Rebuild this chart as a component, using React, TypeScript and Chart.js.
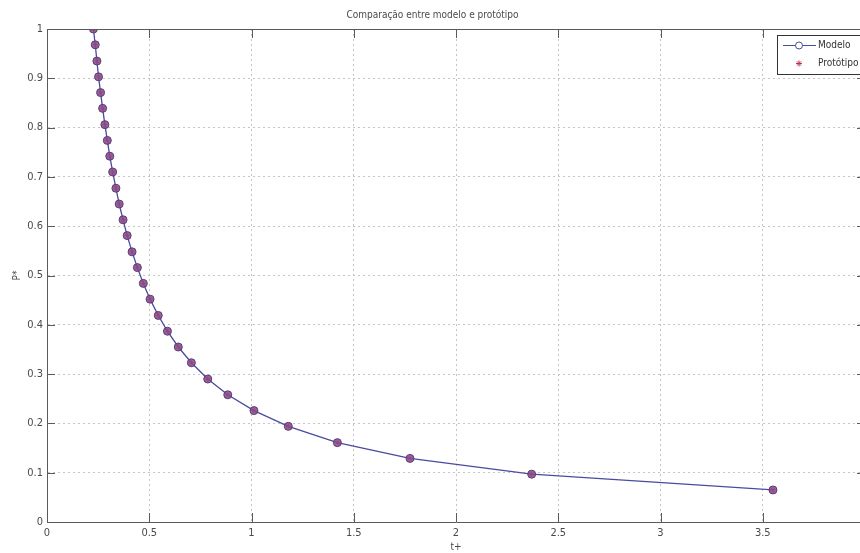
import React, { useEffect, useRef } from "react";
import { Chart, registerables } from "chart.js";

Chart.register(...registerables);

const titleText = "Comparação entre modelo e protótipo";
const xLabel = "t+";
const yLabel = "P*";
const seriesNames = ["Modelo", "Protótipo"];

const xTicks = [0, 0.5, 1, 1.5, 2, 2.5, 3, 3.5, 4];
const yTicks = [0, 0.1, 0.2, 0.3, 0.4, 0.5, 0.6, 0.7, 0.8, 0.9, 1];

const tModel = [
  0.227, 0.236, 0.244, 0.252, 0.262, 0.272, 0.283, 0.295, 0.307, 0.321,
  0.337, 0.353, 0.372, 0.392, 0.416, 0.442, 0.471, 0.504, 0.544, 0.589,
  0.642, 0.706, 0.786, 0.884, 1.012, 1.18, 1.42, 1.775, 2.37, 3.55,
];
const pModel = [
  1.0, 0.968, 0.935, 0.903, 0.871, 0.839, 0.806, 0.774, 0.742, 0.71,
  0.677, 0.645, 0.613, 0.581, 0.548, 0.516, 0.484, 0.452, 0.419, 0.387,
  0.355, 0.323, 0.29, 0.258, 0.226, 0.194, 0.161, 0.129, 0.097, 0.065,
];
const tProto = [
  0.227, 0.236, 0.244, 0.252, 0.262, 0.272, 0.283, 0.295, 0.307, 0.321,
  0.337, 0.353, 0.372, 0.392, 0.416, 0.442, 0.471, 0.504, 0.544, 0.589,
  0.642, 0.706, 0.786, 0.884, 1.012, 1.18, 1.42, 1.775, 2.37, 3.55,
];
const pProto = [
  1.0, 0.968, 0.935, 0.903, 0.871, 0.839, 0.806, 0.774, 0.742, 0.71,
  0.677, 0.645, 0.613, 0.581, 0.548, 0.516, 0.484, 0.452, 0.419, 0.387,
  0.355, 0.323, 0.29, 0.258, 0.226, 0.194, 0.161, 0.129, 0.097, 0.065,
];

const FONT = "'Liberation Sans Narrow', 'DejaVu Sans Condensed', Arial, sans-serif";
const TEXT = "#4a4a4a";
const AXIS = "#5a5a5a";
const BLUE = "#4a4aa0";
const RED = "#c03058";
const GRID = "#c4c4c4";

function drawStar(ctx: CanvasRenderingContext2D, x: number, y: number, r: number) {
  ctx.beginPath();
  for (let i = 0; i < 4; i++) {
    const a = (i * Math.PI) / 4;
    ctx.moveTo(x + Math.cos(a) * r, y + Math.sin(a) * r);
    ctx.lineTo(x - Math.cos(a) * r, y - Math.sin(a) * r);
  }
  ctx.stroke();
}

const framePlugin = {
  id: "frame",
  afterDraw(chart: any) {
    const { ctx, chartArea: a, scales } = chart;
    const x = scales.x;
    const y = scales.y;
    ctx.save();
    ctx.strokeStyle = AXIS;
    ctx.lineWidth = 1;
    ctx.beginPath();
    ctx.moveTo(a.left, a.top + 0.5);
    ctx.lineTo(a.right, a.top + 0.5);
    ctx.moveTo(a.right - 0.5, a.top);
    ctx.lineTo(a.right - 0.5, a.bottom);
    for (const v of xTicks) {
      const px = Math.round(x.getPixelForValue(v)) + 0.5;
      ctx.moveTo(px, a.bottom);
      ctx.lineTo(px, a.bottom - 9);
      ctx.moveTo(px, a.top);
      ctx.lineTo(px, a.top + 9);
    }
    for (const v of yTicks) {
      const py = Math.round(y.getPixelForValue(v)) + 0.5;
      ctx.moveTo(a.left, py);
      ctx.lineTo(a.left + 8, py);
      ctx.moveTo(a.right, py);
      ctx.lineTo(a.right - 8, py);
    }
    ctx.stroke();

    // legend box
    const lx = a.right - 88;
    const ly = a.top + 6;
    const lw = 90;
    const lh = 39;
    ctx.fillStyle = "#ffffff";
    ctx.fillRect(lx, ly, lw, lh);
    ctx.strokeStyle = "#333";
    ctx.strokeRect(lx + 0.5, ly + 0.5, lw, lh);

    const row1 = ly + 10.5;
    const row2 = ly + 28.5;
    ctx.strokeStyle = BLUE;
    ctx.beginPath();
    ctx.moveTo(lx + 6, row1);
    ctx.lineTo(lx + 39, row1);
    ctx.stroke();
    ctx.fillStyle = "#ffffff";
    ctx.beginPath();
    ctx.arc(lx + 22, row1, 3.5, 0, Math.PI * 2);
    ctx.fill();
    ctx.stroke();
    ctx.strokeStyle = RED;
    drawStar(ctx, lx + 22, row2, 3);

    ctx.fillStyle = "#333";
    ctx.font = `10px ${FONT}`;
    ctx.textBaseline = "middle";
    ctx.textAlign = "left";
    ctx.fillText(seriesNames[0], lx + 41, row1);
    ctx.fillText(seriesNames[1], lx + 41, row2);
    ctx.restore();
  },
};

export default function App() {
  const ref = useRef<HTMLCanvasElement | null>(null);

  useEffect(() => {
    if (!ref.current) return;
    const chart = new Chart(ref.current, {
      type: "line",
      data: {
        datasets: [
          {
            label: seriesNames[0],
            data: tModel.map((t, i) => ({ x: t, y: pModel[i] })),
            borderColor: BLUE,
            borderWidth: 1.3,
            pointStyle: "circle",
            pointRadius: 4,
            pointBorderColor: "#5a3a7a",
            pointBackgroundColor: "rgba(140,75,135,0.85)",
            pointBorderWidth: 1,
            tension: 0,
            fill: false,
          },
          {
            label: seriesNames[1],
            data: tProto.map((t, i) => ({ x: t, y: pProto[i] })),
            showLine: false,
            borderColor: RED,
            pointStyle: "star",
            pointRadius: 3,
            pointBorderColor: "rgba(170,50,90,0.8)",
            pointBorderWidth: 1,
          },
        ],
      },
      options: {
        responsive: false,
        animation: false,
        devicePixelRatio: 1,
        layout: { padding: { left: 0, right: 15, top: 0, bottom: 0 } },
        plugins: {
          legend: { display: false },
          tooltip: { enabled: false },
          title: {
            display: true,
            text: titleText,
            color: TEXT,
            font: { family: FONT, size: 10, weight: "normal" },
            padding: { top: 9, bottom: 8 },
          },
        },
        scales: {
          x: {
            type: "linear",
            min: 0,
            max: 4,
            afterBuildTicks: (s: any) => {
              s.ticks = xTicks.map((v) => ({ value: v }));
            },
            afterFit: (s: any) => {
              s.height = 31;
            },
            ticks: {
              autoSkip: false,
              maxRotation: 0,
              padding: 5,
              color: TEXT,
              font: { family: FONT, size: 11 },
              callback: (v: any) => String(Math.round(Number(v) * 10) / 10),
            },
            grid: { color: GRID, drawTicks: false, lineWidth: 1 },
            border: { display: true, color: AXIS, width: 1, dash: [2, 3] },
            title: {
              display: true,
              text: xLabel,
              color: TEXT,
              font: { family: FONT, size: 10 },
              padding: { top: 0, bottom: 0 },
            },
          },
          y: {
            type: "linear",
            min: 0,
            max: 1,
            afterBuildTicks: (s: any) => {
              s.ticks = yTicks.map((v) => ({ value: v }));
            },
            afterFit: (s: any) => {
              s.width = 47;
            },
            ticks: {
              autoSkip: false,
              padding: 4,
              color: TEXT,
              font: { family: FONT, size: 11 },
              callback: (v: any) => String(Math.round(Number(v) * 10) / 10),
            },
            grid: { color: GRID, drawTicks: false, lineWidth: 1 },
            border: { display: true, color: AXIS, width: 1, dash: [2, 3] },
            title: {
              display: true,
              text: yLabel,
              color: TEXT,
              font: { family: FONT, size: 10 },
              padding: { top: 11, bottom: 0 },
            },
          },
        },
      },
      plugins: [framePlugin],
    });
    return () => chart.destroy();
  }, []);

  return (
    <div
      style={{
        position: "fixed",
        left: 0,
        top: 0,
        width: 860,
        height: 553,
        overflow: "hidden",
        background: "#ffffff",
      }}
    >
      <canvas ref={ref} width={880} height={553} style={{ display: "block", width: 880, height: 553 }} />
    </div>
  );
}
